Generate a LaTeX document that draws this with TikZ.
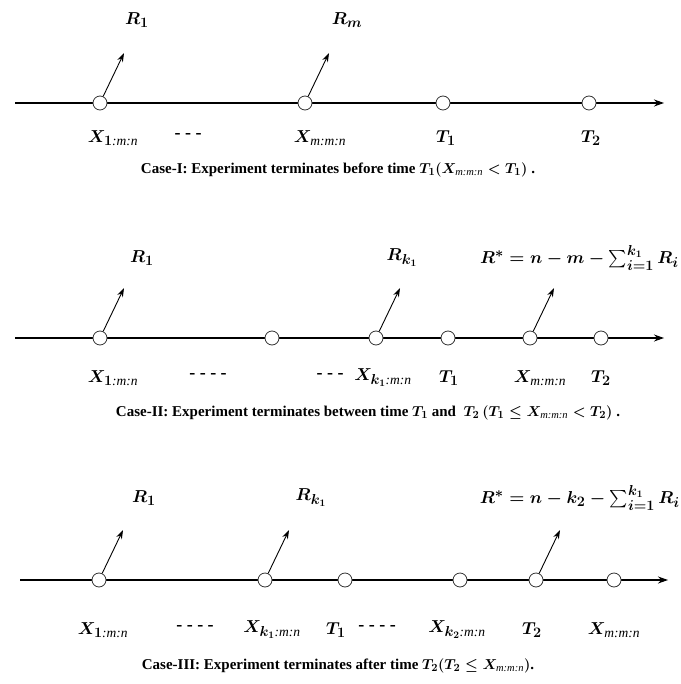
\documentclass[tikz,border=0pt]{standalone}
\usepackage{amsmath}
\usepackage{fontspec}
\setmainfont{Liberation Serif}
\usetikzlibrary{arrows.meta}
\DeclareMathSizes{18}{18}{13.5}{10}
\DeclareMathSizes{15}{15}{10.5}{8}
\newcommand{\subtx}[1]{\textnormal{\itshape #1}}
\tikzset{
  nd_pt/.style={
    circle, draw=black!80, fill=white, line width=0.8pt,
    minimum size=14pt, inner sep=0pt},
  ax_arr/.style={-{Stealth[length=10pt,width=7pt]},line width=1.1pt},
  arr/.style={-{Stealth[length=9pt,width=6pt]},line width=0.9pt},
  lbl/.style={font=\fontsize{18}{20}\selectfont\bfseries\boldmath,inner sep=0pt},
  nd_cap/.style={font=\fontsize{15}{17}\selectfont\bfseries\boldmath,inner sep=0pt},
}
\begin{document}
\begin{tikzpicture}[x=1pt,y=-1pt]
\useasboundingbox (0,0) rectangle (680,684);

% Case I
\coordinate (s1) at (15,103);
\coordinate (e1) at (664,103);
\draw[ax_arr] (s1) -- (e1);
\node[nd_pt] (p11) at (100,103) {};
\node[nd_pt] (p12) at (305,103) {};
\node[nd_pt] (p13) at (443,103) {};
\node[nd_pt] (p14) at (589,103) {};
\coordinate (t11) at (124,53);
\coordinate (t12) at (329,53);
\draw[arr] (p11) -- (t11);
\draw[arr] (p12) -- (t12);
\node[lbl] (r11) at (137,20) {$R_1$};
\node[lbl] (r12) at (347,20) {$R_m$};
\node[lbl] (x11) at (113,138) {$X_{1\subtx{:m:n}}$};
\node[lbl] (d11) at (188,136) {- - -};
\node[lbl] (x12) at (320,138) {$X_{\subtx{m:m:n}}$};
\node[lbl] (x13) at (446,138) {$T_1$};
\node[lbl] (x14) at (591,138) {$T_2$};
\node[nd_cap] (c1) at (338,170) {Case-I: Experiment terminates before time $T_1(X_{\subtx{m:m:n}} < T_1)$ .};

% Case II
\coordinate (s2) at (15,338);
\coordinate (e2) at (664,338);
\draw[ax_arr] (s2) -- (e2);
\node[nd_pt] (p21) at (100,338) {};
\node[nd_pt] (p22) at (272,338) {};
\node[nd_pt] (p23) at (376,338) {};
\node[nd_pt] (p24) at (448,338) {};
\node[nd_pt] (p25) at (530,338) {};
\node[nd_pt] (p26) at (601,338) {};
\coordinate (t21) at (124,288);
\coordinate (t23) at (400,288);
\coordinate (t25) at (554,288);
\draw[arr] (p21) -- (t21);
\draw[arr] (p23) -- (t23);
\draw[arr] (p25) -- (t25);
\node[lbl] (r21) at (142,258) {$R_1$};
\node[lbl] (r23) at (402,258) {$R_{k_1}$};
\node[lbl,anchor=east] (r25) at (679,258) {$R^* = n - m - \sum\nolimits_{i=1}^{k_1} R_i$};
\node[lbl] (x21) at (113,378) {$X_{1\subtx{:m:n}}$};
\node[lbl] (d21) at (208,376) {- - - -};
\node[lbl] (d22) at (330,376) {- - -};
\node[lbl] (x23) at (383,378) {$X_{k_1\subtx{:m:n}}$};
\node[lbl] (x24) at (449,378) {$T_1$};
\node[lbl] (x25) at (540,378) {$X_{\subtx{m:m:n}}$};
\node[lbl] (x26) at (601,378) {$T_2$};
\node[nd_cap] (c2) at (368,413) {Case-II: Experiment terminates between time $T_1$ and\ \ $T_2\,(T_1 \le X_{\subtx{m:m:n}} < T_2)$ .};

% Case III
\coordinate (s3) at (20,580);
\coordinate (e3) at (668,580);
\draw[ax_arr] (s3) -- (e3);
\node[nd_pt] (p31) at (99,580) {};
\node[nd_pt] (p32) at (265,580) {};
\node[nd_pt] (p33) at (345,580) {};
\node[nd_pt] (p34) at (460,580) {};
\node[nd_pt] (p35) at (536,580) {};
\node[nd_pt] (p36) at (614,580) {};
\coordinate (t31) at (123,530);
\coordinate (t32) at (289,530);
\coordinate (t35) at (560,530);
\draw[arr] (p31) -- (t31);
\draw[arr] (p32) -- (t32);
\draw[arr] (p35) -- (t35);
\node[lbl] (r31) at (144,498) {$R_1$};
\node[lbl] (r32) at (311,498) {$R_{k_1}$};
\node[lbl,anchor=east] (r35) at (680,498) {$R^* = n - k_2 - \sum\nolimits_{i=1}^{k_1} R_i$};
\node[lbl] (x31) at (103,630) {$X_{1\subtx{:m:n}}$};
\node[lbl] (d31) at (195,628) {- - - -};
\node[lbl] (x32) at (272,630) {$X_{k_1\subtx{:m:n}}$};
\node[lbl] (x33) at (336,630) {$T_1$};
\node[lbl] (d32) at (377,628) {- - - -};
\node[lbl] (x34) at (457,630) {$X_{k_2\subtx{:m:n}}$};
\node[lbl] (x35) at (532,630) {$T_2$};
\node[lbl] (x36) at (614,630) {$X_{\subtx{m:m:n}}$};
\node[nd_cap] (c3) at (338,666) {Case-III: Experiment terminates after time $T_2(T_2 \le X_{\subtx{m:m:n}})$.};
\end{tikzpicture}
\end{document}
